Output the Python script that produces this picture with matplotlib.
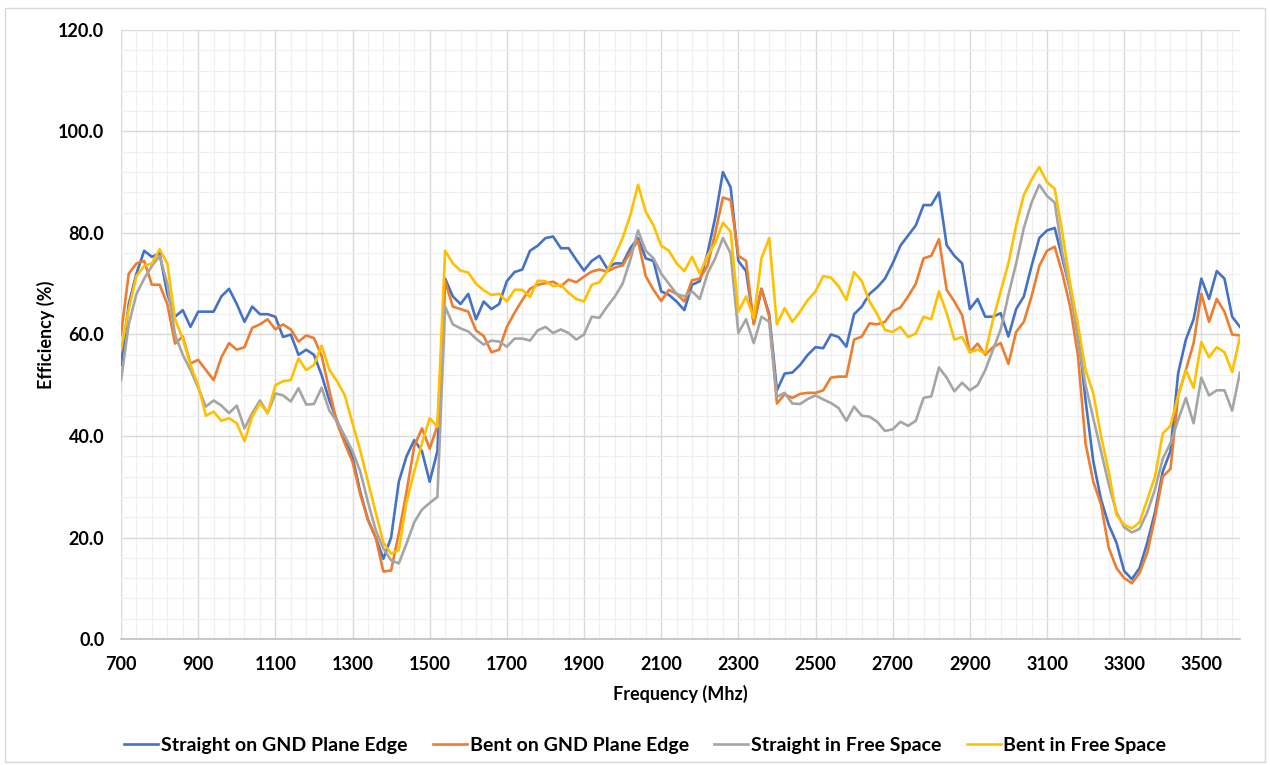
import numpy as np
import matplotlib
matplotlib.use("Agg")
import matplotlib.pyplot as plt
from matplotlib.ticker import FixedLocator, FuncFormatter
from matplotlib.patches import Rectangle

# frequency grid (MHz), 20 MHz steps
freq = list(range(700, 3601, 20))

straight_gnd = [
    54, 66, 72, 76.5, 75.3, 76, 68, 63.5, 64.8, 61.5,            # 700-880
    64.5, 64.5, 64.5, 67.5, 69, 66, 62.5, 65.5, 64, 64,          # 900-1080
    63.5, 59.5, 60, 56, 57, 56, 52, 47, 43, 39.5,                # 1100-1280
    35.8, 29, 23.5, 20, 15.8, 20, 31, 36, 39.2, 37,              # 1300-1480
    31, 37, 71, 67.5, 66, 68, 63, 66.5, 65, 66,                  # 1500-1680
    70.5, 72.3, 72.8, 76.5, 77.5, 79, 79.3, 77, 77, 74.7,        # 1700-1880
    72.6, 74.5, 75.5, 73, 74, 74, 77, 79, 75, 74.5,              # 1900-2080
    68.5, 67.8, 66.5, 64.8, 69.8, 70.5, 76, 83, 92, 89,          # 2100-2280
    74.5, 72.5, 62.2, 69, 64, 49, 52.3, 52.5, 54, 56,            # 2300-2480
    57.5, 57.3, 60, 59.5, 57.6, 64, 65.5, 68, 69.3, 71,          # 2500-2680
    74, 77.5, 79.5, 81.5, 85.5, 85.5, 88, 77.6, 75.5, 74,        # 2700-2880
    65, 67, 63.5, 63.5, 64.2, 59.6, 65, 67.5, 73.5, 79,          # 2900-3080
    80.5, 81, 75, 68.8, 61, 47, 35, 27.5, 22.5, 19,              # 3100-3280
    13.4, 11.8, 14, 19, 25, 33, 37, 52.4, 59, 63,                # 3300-3480
    71, 67, 72.5, 71, 63.5, 61.5,                                # 3500-3600
]

bent_gnd = [
    60, 72, 74, 74.5, 69.8, 69.8, 66, 58.2, 59.6, 54.3,
    55, 53, 51, 55.5, 58.3, 57, 57.5, 61.3, 62, 63,
    61, 62, 61, 58.6, 59.8, 59.3, 55.8, 49, 42.5, 38.5,
    34.9, 28.5, 23.5, 20, 13.3, 13.5, 20.8, 29, 38, 41.5,
    37.5, 42, 70.5, 65.5, 65, 64.5, 60.8, 59.7, 56.5, 57,
    61.5, 64.3, 66.8, 69, 69.8, 70.1, 70.4, 69.5, 70.8, 70.3,
    71.4, 72.4, 72.8, 72.4, 73.2, 73.6, 76.2, 78.5, 71.5, 68.8,
    66.6, 68.8, 68, 66.5, 70.7, 71, 73.5, 80, 87, 86.5,
    75.5, 74.5, 62, 69, 63.5, 46.4, 48.2, 47.5, 48.3, 48.5,
    48.5, 49, 51.5, 51.7, 51.7, 59, 59.6, 62.2, 62, 62.5,
    64.6, 65.3, 67.5, 70, 75, 75.5, 78.8, 68.8, 66.5, 63.8,
    56.5, 58.2, 56, 57.5, 58.3, 54.2, 60.5, 62.5, 67.5, 73.5,
    76.5, 77.3, 72, 65.5, 56, 38.5, 31, 26.5, 18, 14,
    12, 11, 13, 17, 24, 32, 33.5, 48, 53, 58.3,
    68, 62.5, 67, 64.5, 60, 59.8,
]

straight_free = [
    51, 62, 68, 71, 73.5, 75.5, 70, 60, 56, 53,
    49.5, 45.8, 47, 46, 44.5, 46, 41.5, 44.5, 47, 44.5,
    48.4, 48, 46.8, 49.4, 46.2, 46.3, 49.5, 45, 42.8, 40,
    37, 33, 27, 21.5, 17.8, 15.5, 14.9, 18.8, 23, 25.5,
    26.8, 28, 65.5, 62, 61.2, 60.6, 59.2, 58, 58.8, 58.6,
    57.6, 59.2, 59.2, 58.8, 60.8, 61.5, 60.3, 61, 60.3, 59,
    60, 63.5, 63.3, 65.5, 67.5, 70, 74.7, 80.5, 76.5, 75,
    72, 70, 68, 67.5, 68.5, 67, 72, 75, 79, 76,
    60.3, 63, 58.3, 63.5, 62.5, 47.7, 48.5, 46.4, 46.3, 47.3,
    48, 47.2, 46.5, 45.5, 43, 45.8, 44, 43.8, 42.8, 41,
    41.3, 42.8, 42, 43, 47.5, 47.8, 53.5, 51.5, 48.8, 50.5,
    49, 50, 53, 57, 61, 67.8, 74, 81, 86, 89.5,
    87.3, 86, 76, 68.8, 59, 50, 43.5, 37, 30.5, 25,
    22, 21, 21.7, 25, 29.5, 35.5, 38.6, 43.2, 47.5, 42.5,
    51.5, 48, 49, 49, 45, 52.5,
]

bent_free = [
    57, 65, 71.5, 73.5, 74, 76.8, 74, 63, 59.2, 54,
    50, 44, 44.8, 43, 43.5, 42.5, 39, 43.8, 46.5, 44.5,
    50, 50.8, 51, 55.3, 53, 54, 57.8, 53, 50.8, 48,
    42.5, 37.2, 31, 25, 19, 16.8, 17.5, 27, 33, 38.6,
    43.5, 41.8, 76.5, 74, 72.6, 72.2, 70, 68.7, 67.8, 68,
    66.5, 68.8, 68.8, 67.4, 70.6, 70.5, 69.5, 69.8, 68.2, 67,
    66.5, 69.8, 70.3, 72.5, 75.5, 79, 83.5, 89.5, 84.2, 81.5,
    77.5, 76.5, 74, 72.5, 75.3, 72, 75.5, 78, 82, 80.3,
    64.5, 67.5, 63.2, 75, 79, 62, 65.2, 62.5, 64.5, 66.8,
    68.5, 71.5, 71.2, 69.5, 66.8, 72.3, 70.5, 66.5, 64, 60.9,
    60.5, 61.5, 59.5, 60.2, 63.5, 63, 68.5, 64.2, 59, 59.5,
    56.5, 57, 56.3, 62.9, 68.5, 74, 81.5, 87.5, 90.5, 93,
    90, 88.7, 80, 70, 62, 53, 48.4, 40, 33, 24.5,
    22.5, 21.8, 23, 27.5, 32, 40.5, 42, 48, 53, 49.5,
    58.5, 55.5, 57.5, 56.5, 52.6, 59.5,
]

labels = ["Straight on GND Plane Edge", "Bent on GND Plane Edge",
          "Straight in Free Space", "Bent in Free Space"]
colors = ["#4472C4", "#ED7D31", "#A5A5A5", "#FFC000"]

plt.rcParams['font.family'] = ['Lato', 'DejaVu Sans']

fig = plt.figure(figsize=(12.7, 7.65), dpi=100)
ax = fig.add_axes([0.0953, 0.1647, 0.881, 0.7961])

for series, lab, col in zip([straight_gnd, bent_gnd, straight_free, bent_free], labels, colors):
    ax.plot(freq, series, color=col, linewidth=1.9, label=lab)

ax.set_xlim(700, 3600)
ax.set_ylim(0, 120)
ax.xaxis.set_major_locator(FixedLocator(np.arange(700, 3600, 200)))
ax.xaxis.set_minor_locator(FixedLocator(np.arange(700, 3601, 40)))
ax.yaxis.set_major_locator(FixedLocator(np.arange(0, 121, 20)))
ax.yaxis.set_minor_locator(FixedLocator(np.arange(0, 121, 4)))
ax.yaxis.set_major_formatter(FuncFormatter(lambda v, p: f"{v:.1f}"))

ax.grid(which='major', color='#d9d9d9', linewidth=1.0)
ax.grid(which='minor', color='#f0f0f0', linewidth=0.9)
ax.set_axisbelow(True)

for s in ['top', 'right', 'left']:
    ax.spines[s].set_visible(False)
ax.spines['bottom'].set_color('#bfbfbf')
ax.spines['bottom'].set_linewidth(1.2)

ax.tick_params(which='both', length=0)
ax.tick_params(axis='x', pad=12, labelsize=13)
ax.tick_params(axis='y', pad=12, labelsize=13)
for t in ax.get_xticklabels() + ax.get_yticklabels():
    t.set_fontweight('bold')

ax.set_xlabel("Frequency (Mhz)", fontsize=13, fontweight='bold', labelpad=9)
ax.set_ylabel("Efficiency (%)", fontsize=13, fontweight='bold', labelpad=2)

fig.legend(loc='center', bbox_to_anchor=(0.508, 0.026), ncol=4, frameon=False,
           prop={'size': 14, 'weight': 'bold'}, handlelength=1.75,
           handletextpad=0.15, columnspacing=1.3)

fig.patches.append(Rectangle((0.004, 0.004), 0.992, 0.986, transform=fig.transFigure,
                             fill=False, edgecolor='#d9d9d9', linewidth=1.0))

fig.savefig("out.png", dpi=100)
